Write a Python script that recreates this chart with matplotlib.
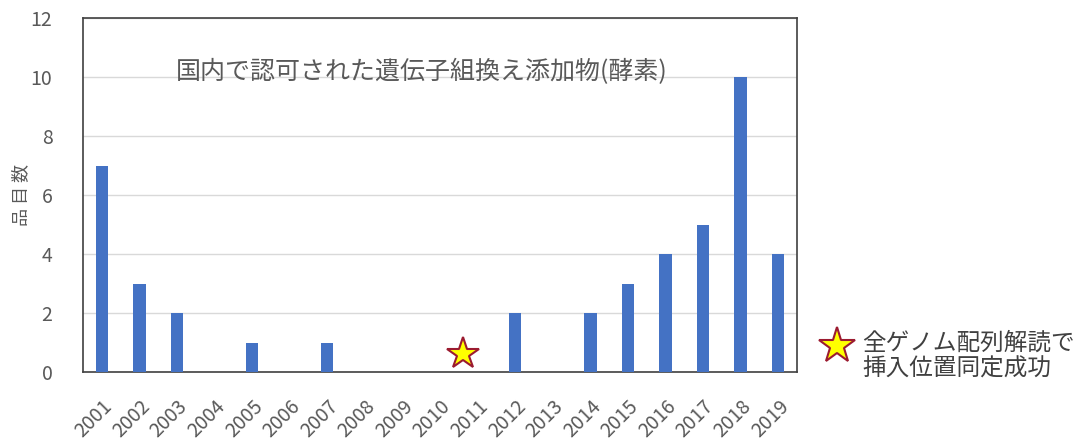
import numpy as np
import matplotlib.pyplot as plt

plt.rcParams['font.family'] = ['Noto Sans CJK JP', 'DejaVu Sans']

# data
years = [str(y) for y in range(2001, 2020)]
counts = [7, 3, 2, 0, 1, 0, 1, 0, 0, 0, 0, 2, 0, 2, 3, 4, 5, 10, 4]
star_x = 9.6   # near 2011
star_y = 0.6

title = '国内で認可された遺伝子組換え添加物(酵素)'
ylabel = '品 目 数'
note = '全ゲノム配列解読で\n挿入位置同定成功'

fig = plt.figure(figsize=(10.83, 4.41), dpi=100)
ax = fig.add_axes([83 / 1083, 1 - 372 / 441, 714 / 1083, 354 / 441])

x = np.arange(len(years))
ax.bar(x, counts, width=0.33, color='#4472C4', zorder=3)
ax.plot(star_x, star_y, marker='*', markersize=24, color='#FFFF00',
        markeredgecolor='#9B1B30', markeredgewidth=1.5, zorder=4)

ax.set_xlim(-0.5, len(years) - 0.5)
ax.set_ylim(0, 12)
ax.set_yticks(range(0, 13, 2))
ax.grid(axis='y', color='#D9D9D9', linewidth=1, zorder=0)
ax.set_xticks(x)
ax.set_xticklabels(years, rotation=45, ha='right', rotation_mode='anchor')
ax.tick_params(axis='both', length=0, colors='#595959', labelsize=14)
ax.tick_params(axis='x', pad=17)
ax.tick_params(axis='y', pad=22)
for s in ax.spines.values():
    s.set_color('#404040')
    s.set_linewidth(1.2)

ax.set_ylabel(ylabel, color='#595959', fontsize=13, va='center')
ax.yaxis.set_label_coords(-0.087, 0.5)
ax.text(0.474, 0.847, title, transform=ax.transAxes, ha='center', va='center',
        fontsize=18, color='#595959')

# legend-like note on the right
fig.lines.append(plt.Line2D([837 / 1083], [1 - 346 / 441], transform=fig.transFigure,
                            marker='*', markersize=27, color='#FFFF00',
                            markeredgecolor='#9B1B30', markeredgewidth=1.5))
fig.text(862 / 1083, 1 - 356 / 441, note, ha='left', va='center',
         fontsize=17, color='#404040', linespacing=1.15)

fig.savefig('out.png', dpi=100)
